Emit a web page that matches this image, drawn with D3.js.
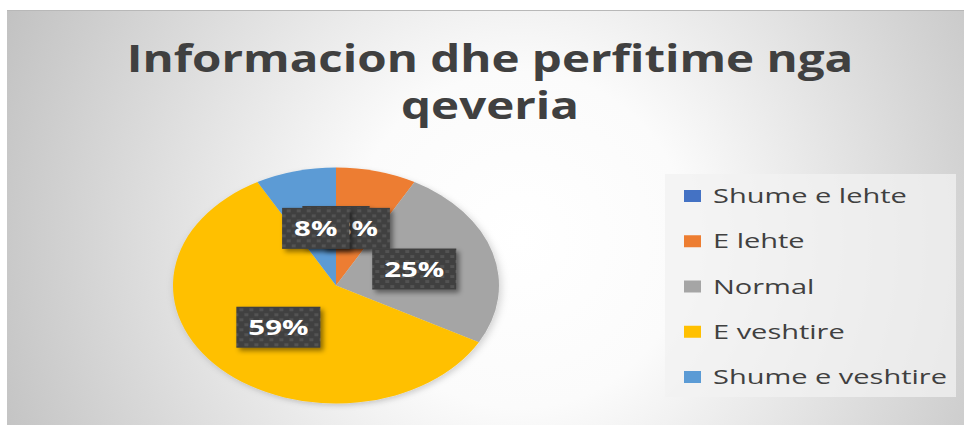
<!DOCTYPE html>
<html>
<head>
<meta charset="utf-8">
<script src="https://cdn.jsdelivr.net/npm/d3@7"></script>
<style>
  html, body { margin: 0; padding: 0; background: #fff; }
  svg { display: block; }
</style>
</head>
<body>
<div id="chart"></div>
<script>
// data
const titleLines = ["Informacion dhe perfitime nga", "qeveria"];
const categories = ["Shume e lehte", "E lehte", "Normal", "E veshtire", "Shume e veshtire"];
const values = [0, 8, 25, 59, 8];
const colors = ["#4472C4", "#ED7D31", "#A5A5A5", "#FFC000", "#5B9BD5"];

const width = 964;
const height = 425;
const stretch = 1.4; // the original picture is squeezed wide

const svg = d3.select("#chart").append("svg")
    .attr("width", width)
    .attr("height", height)
    .style("font-family", "'Open Sans', sans-serif");

const defs = svg.append("defs");

const bg = defs.append("radialGradient")
    .attr("id", "bg")
    .attr("gradientUnits", "userSpaceOnUse")
    .attr("cx", 520).attr("cy", 240).attr("r", 560);
bg.append("stop").attr("offset", "0").attr("stop-color", "#ffffff");
bg.append("stop").attr("offset", "0.3").attr("stop-color", "#fbfbfb");
bg.append("stop").attr("offset", "1").attr("stop-color", "#c2c2c2");

const dots = defs.append("pattern")
    .attr("id", "dots")
    .attr("patternUnits", "userSpaceOnUse")
    .attr("width", 10).attr("height", 10);
dots.append("rect").attr("width", 10).attr("height", 10).attr("fill", "#404040");
dots.append("rect").attr("x", 1).attr("y", 1).attr("width", 4).attr("height", 3).attr("fill", "#525252");
dots.append("rect").attr("x", 6).attr("y", 6).attr("width", 4).attr("height", 3).attr("fill", "#525252");

const shadow = defs.append("filter").attr("id", "shadow")
    .attr("x", "-20%").attr("y", "-20%").attr("width", "150%").attr("height", "150%");
shadow.append("feDropShadow")
    .attr("dx", 3).attr("dy", 3).attr("stdDeviation", 2.5)
    .attr("flood-color", "#000").attr("flood-opacity", 0.45);

const pieShadow = defs.append("filter").attr("id", "pieShadow")
    .attr("x", "-10%").attr("y", "-10%").attr("width", "125%").attr("height", "125%");
pieShadow.append("feDropShadow")
    .attr("dx", 2).attr("dy", 3).attr("stdDeviation", 4)
    .attr("flood-color", "#000").attr("flood-opacity", 0.18);

// chart area
svg.append("rect")
    .attr("x", 7).attr("y", 10)
    .attr("width", width - 7).attr("height", height - 10)
    .attr("fill", "url(#bg)");
svg.append("line")
    .attr("x1", 7).attr("x2", width).attr("y1", 10.5).attr("y2", 10.5)
    .attr("stroke", "#b8b8b8");

// title
const title = svg.append("g").attr("fill", "#404040")
    .attr("font-weight", 700).attr("font-size", 38);
title.selectAll("text")
    .data(titleLines)
    .join("text")
    .attr("text-anchor", "middle")
    .attr("transform", (d, i) => `translate(490,${72 + i * 47}) scale(1.25,1)`)
    .text(d => d);

// pie
const cx = 336, cy = 285.5, rx = 163, ry = 118;
const pie = d3.pie().sort(null).value(d => d);
const arcs = pie(values);
const arc = d3.arc().innerRadius(0).outerRadius(rx);
const labelArc = d3.arc().innerRadius(rx * 0.5).outerRadius(rx * 0.5);

const pieG = svg.append("g")
    .attr("transform", `translate(${cx},${cy}) scale(1,${ry / rx})`)
    .attr("filter", "url(#pieShadow)");
pieG.selectAll("path")
    .data(arcs)
    .join("path")
    .attr("d", arc)
    .attr("fill", (d, i) => colors[i]);

// data labels (the 0% one sits under the 8% ones, as in the original)
const labels = svg.append("g").attr("font-weight", 700).attr("font-size", 21);
arcs.forEach((d, i) => {
    const [lx, ly] = labelArc.centroid(d);
    const g = labels.append("g")
        .attr("transform", `translate(${cx + lx},${cy + ly * ry / rx})`);
    const box = g.append("rect").attr("fill", "url(#dots)").attr("filter", "url(#shadow)");
    const t = g.append("text")
        .attr("text-anchor", "middle")
        .attr("dy", "0.36em")
        .attr("fill", "#ffffff")
        .attr("transform", `scale(${stretch},1)`)
        .text(`${values[i]}%`);
    const w = t.node().getComputedTextLength() * stretch + 24;
    box.attr("x", -w / 2).attr("y", -20.5).attr("width", w).attr("height", 41);
});

// legend
const legend = svg.append("g");
legend.append("rect")
    .attr("x", 665).attr("y", 174)
    .attr("width", 291).attr("height", 223)
    .attr("fill", "#f2f2f2").attr("fill-opacity", 0.75);

const rowY = d3.scalePoint().domain(categories).range([196, 377]);
const item = legend.selectAll("g.item")
    .data(categories)
    .join("g")
    .attr("class", "item")
    .attr("transform", d => `translate(684,${rowY(d)})`);
item.append("rect")
    .attr("x", 0).attr("y", -6)
    .attr("width", 17).attr("height", 12)
    .attr("fill", (d, i) => colors[i]);
item.append("text")
    .attr("transform", `translate(29,0) scale(1.45,1)`)
    .attr("dy", "0.36em")
    .attr("font-size", 20)
    .attr("fill", "#404040")
    .text(d => d);
</script>
</body>
</html>
